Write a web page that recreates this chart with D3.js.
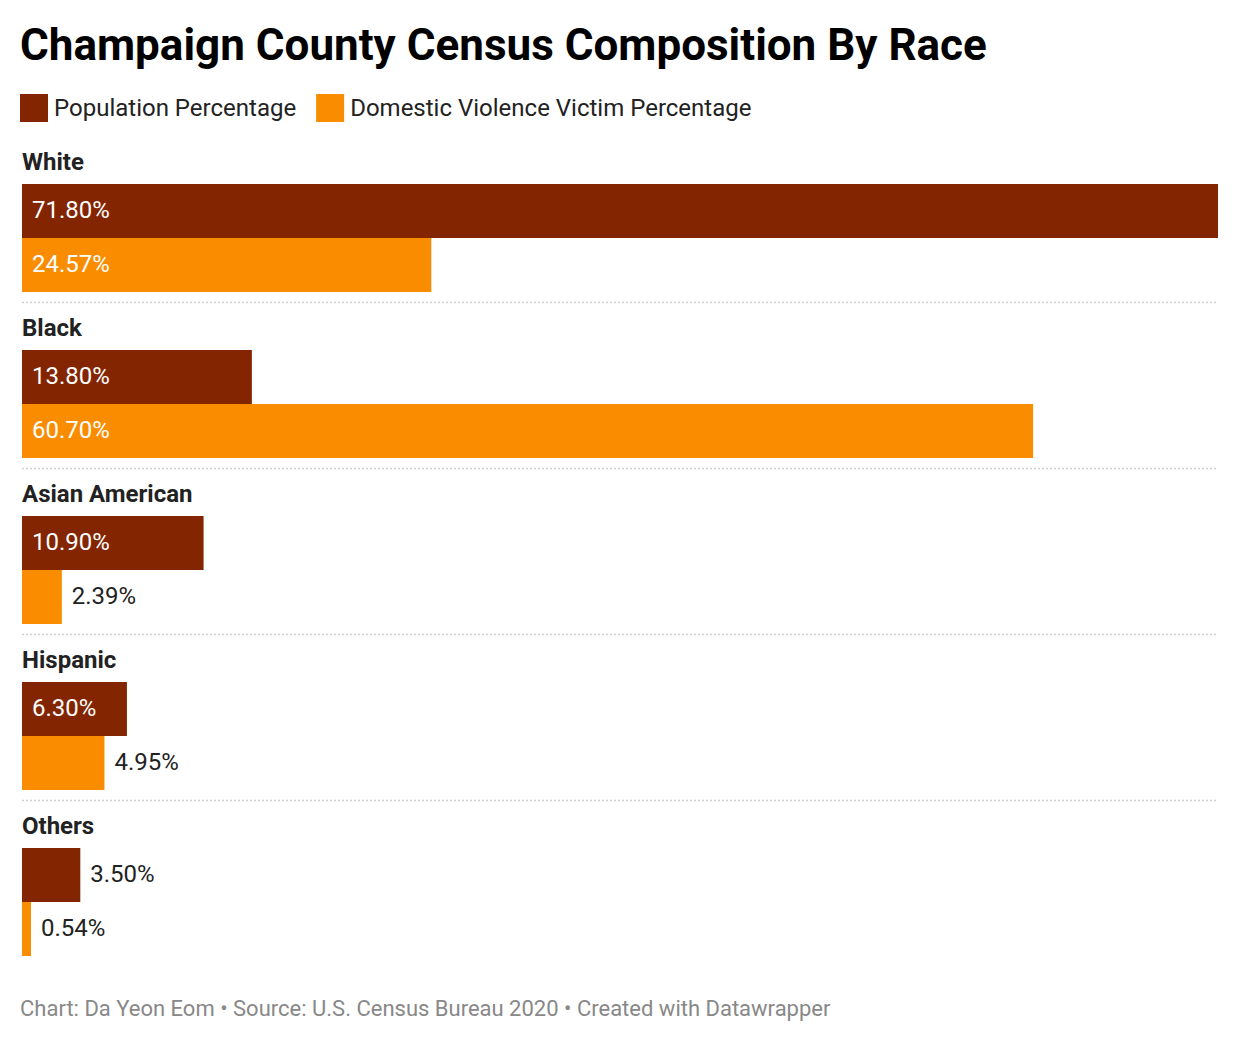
<!DOCTYPE html>
<html>
<head>
<meta charset="utf-8">
<script src="https://cdn.jsdelivr.net/npm/d3@7"></script>
<style>
  body { margin: 0; background: #fff; font-family: Roboto, "Noto Sans", sans-serif; }
</style>
</head>
<body>
<svg id="chart" width="1240" height="1042"></svg>
<script>
// Chart data
const categories = ["White", "Black", "Asian American", "Hispanic", "Others"];
const populationPct = [71.80, 13.80, 10.90, 6.30, 3.50];
const victimPct = [24.57, 60.70, 2.39, 4.95, 0.54];
const seriesNames = ["Population Percentage", "Domestic Violence Victim Percentage"];
const seriesColors = ["#832500", "#fa8c00"];

const svg = d3.select("#chart");
const left = 22, right = 1218;
const groupTop = 150;      // top of first group
const groupStep = 166;     // height of each group
const labelOffset = 20;    // baseline of category label within group
const barOffset = 34;      // first bar top within group
const barH = 54;

// Title
svg.append("text")
    .attr("x", 20).attr("y", 60)
    .style("font-size", "44px").style("font-weight", "700")
    .attr("fill", "#000")
    .text("Champaign County Census Composition By Race");

// Legend
let lx = 20;
seriesNames.forEach((name, i) => {
    svg.append("rect")
        .attr("x", lx).attr("y", 94).attr("width", 28).attr("height", 28)
        .attr("fill", seriesColors[i]);
    const t = svg.append("text")
        .attr("x", lx + 34).attr("y", 116)
        .style("font-size", "24px").attr("fill", "#222")
        .text(name);
    lx += 34 + t.node().getComputedTextLength() + 20;
});

const x = d3.scaleLinear()
    .domain([0, d3.max(populationPct.concat(victimPct))])
    .range([left, right]);

const groups = svg.selectAll("g.group")
    .data(categories.map((c, i) => ({ name: c, values: [populationPct[i], victimPct[i]] })))
    .enter().append("g")
    .attr("class", "group")
    .attr("transform", (d, i) => `translate(0,${groupTop + i * groupStep})`);

groups.append("text")
    .attr("x", left).attr("y", labelOffset)
    .style("font-size", "24px").style("font-weight", "700")
    .attr("fill", "#222")
    .text(d => d.name);

groups.each(function(d, gi) {
    const g = d3.select(this);
    d.values.forEach((v, si) => {
        const y0 = barOffset + si * barH;
        const w = x(v) - x(0);
        g.append("rect")
            .attr("x", x(0)).attr("y", y0)
            .attr("width", w).attr("height", barH)
            .attr("fill", seriesColors[si]);
        const t = g.append("text")
            .attr("y", y0 + barH / 2)
            .attr("dy", "0.3em")
            .style("font-size", "24px")
            .text(v.toFixed(2) + "%");
        const tw = t.node().getComputedTextLength();
        if (w > tw + 30) {
            t.attr("x", x(0) + 10).attr("fill", "#fff");
        } else {
            t.attr("x", x(v) + 10).attr("fill", "#222");
        }
    });
    // dotted separator
    if (gi < categories.length - 1) {
        g.append("line")
            .attr("x1", left).attr("x2", right)
            .attr("y1", barOffset + 2 * barH + 10.5).attr("y2", barOffset + 2 * barH + 10.5)
            .attr("stroke", "#d0d0d0").attr("stroke-width", 1.5)
            .attr("stroke-dasharray", "2,2");
    }
});

// Footer
svg.append("text")
    .attr("x", 20).attr("y", 1016)
    .style("font-size", "22px").attr("fill", "#888")
    .text("Chart: Da Yeon Eom • Source: U.S. Census Bureau 2020 • Created with Datawrapper");
</script>
</body>
</html>
